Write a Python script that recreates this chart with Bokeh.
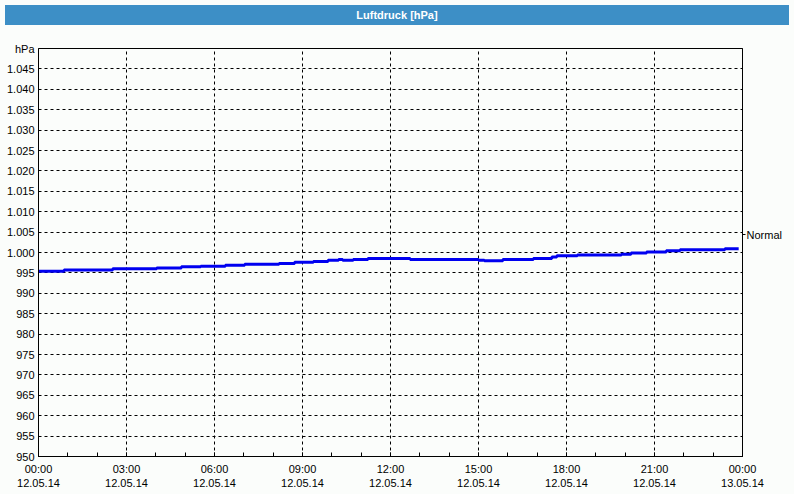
from bokeh.plotting import figure
from bokeh.models import FixedTicker, LinearAxis, Range1d, Div
from bokeh.layouts import column
from bokeh.embed import file_html
from bokeh.resources import INLINE

# ---- data ----
hours = [0.0, 0.87, 2.53, 4.03, 4.87, 5.53, 6.37, 7.03, 8.2, 8.73, 9.37, 9.87,
         10.23, 10.37, 10.73, 11.23, 12.67, 15.0, 15.2, 15.83, 16.87, 17.5,
         17.67, 18.37, 19.87, 20.2, 20.73, 21.4, 21.87, 23.4, 23.87]
pressure = [995.4, 995.7, 996.0, 996.2, 996.5, 996.6, 996.9, 997.1, 997.3, 997.6,
            997.8, 998.1, 998.3, 998.1, 998.3, 998.5, 998.3, 998.1, 998.0, 998.3,
            998.5, 998.9, 999.2, 999.4, 999.6, 999.9, 1000.1, 1000.4, 1000.7,
            1000.9, 1000.9]
x_ticks = [0, 3, 6, 9, 12, 15, 18, 21, 24]
x_labels = ["00:00\n12.05.14", "03:00\n12.05.14", "06:00\n12.05.14",
            "09:00\n12.05.14", "12:00\n12.05.14", "15:00\n12.05.14",
            "18:00\n12.05.14", "21:00\n12.05.14", "00:00\n13.05.14"]
y_ticks = [950, 955, 960, 965, 970, 975, 980, 985, 990, 995, 1000, 1005,
           1010, 1015, 1020, 1025, 1030, 1035, 1040, 1045, 1050]
y_labels = ["950", "955", "960", "965", "970", "975", "980", "985", "990", "995",
            "1.000", "1.005", "1.010", "1.015", "1.020", "1.025", "1.030",
            "1.035", "1.040", "1.045", "hPa"]
normal_value = [1004.3]
normal_label = ["Normal"]
title_text = "Luftdruck [hPa]"

BG = "#fbfdfb"
BLUE_BAR = "#3d8fc6"
FONT = "Liberation Sans"

title_div = Div(text=title_text, width=784, height=20,
                styles={"background-color": BLUE_BAR, "color": "white",
                        "font-weight": "bold", "font-family": FONT,
                        "font-size": "11px", "text-align": "center",
                        "line-height": "20px"})

p = figure(width=784, height=464, output_backend="svg", toolbar_location=None,
           x_range=Range1d(0, 24), y_range=Range1d(950, 1050),
           background_fill_color=BG, border_fill_color=BG,
           min_border_left=38, min_border_right=42, min_border_top=18,
           min_border_bottom=38)
p.outline_line_color = "black"
p.outline_line_width = 1

p.step(hours, pressure, mode="after", line_color="#0000f0", line_width=3)

# x axis
xa = p.xaxis[0]
xa.ticker = FixedTicker(ticks=x_ticks, minor_ticks=list(range(0, 25)))
xa.major_label_overrides = {t: l for t, l in zip(x_ticks, x_labels)}
xa.major_tick_in = 4
xa.major_tick_out = 0
xa.minor_tick_in = 4
xa.minor_tick_out = 0
xa.major_label_standoff = 6
xa.major_label_text_font = FONT
xa.major_label_text_font_size = "11px"
xa.major_label_text_color = "black"
xa.axis_line_color = "black"

# y axis
ya = p.yaxis[0]
ya.ticker = FixedTicker(ticks=y_ticks)
ya.major_label_overrides = {t: l for t, l in zip(y_ticks, y_labels)}
ya.major_tick_in = 0
ya.major_tick_out = 0
ya.minor_tick_in = 0
ya.minor_tick_out = 0
ya.major_label_standoff = 4
ya.major_label_text_font = FONT
ya.major_label_text_font_size = "11px"
ya.major_label_text_color = "black"
ya.axis_line_color = "black"

# right "Normal" axis
ra = LinearAxis(ticker=FixedTicker(ticks=normal_value, minor_ticks=[]))
ra.major_label_overrides = {normal_value[0]: normal_label[0]}
ra.major_tick_out = 3
ra.major_tick_in = 0
ra.major_label_standoff = 1
ra.major_label_text_font = FONT
ra.major_label_text_font_size = "11px"
ra.major_label_text_color = "black"
ra.axis_line_color = "black"
p.add_layout(ra, "right")

for g in (p.xgrid[0], p.ygrid[0]):
    g.grid_line_color = "black"
    g.grid_line_dash = "3 3"
    g.grid_line_width = 1
p.xgrid[0].ticker = FixedTicker(ticks=x_ticks)
p.ygrid[0].ticker = FixedTicker(ticks=y_ticks[:-1])

layout = column(title_div, p, spacing=0,
                styles={"background-color": BG})

open("out.html", "w").write(file_html(layout, INLINE))
